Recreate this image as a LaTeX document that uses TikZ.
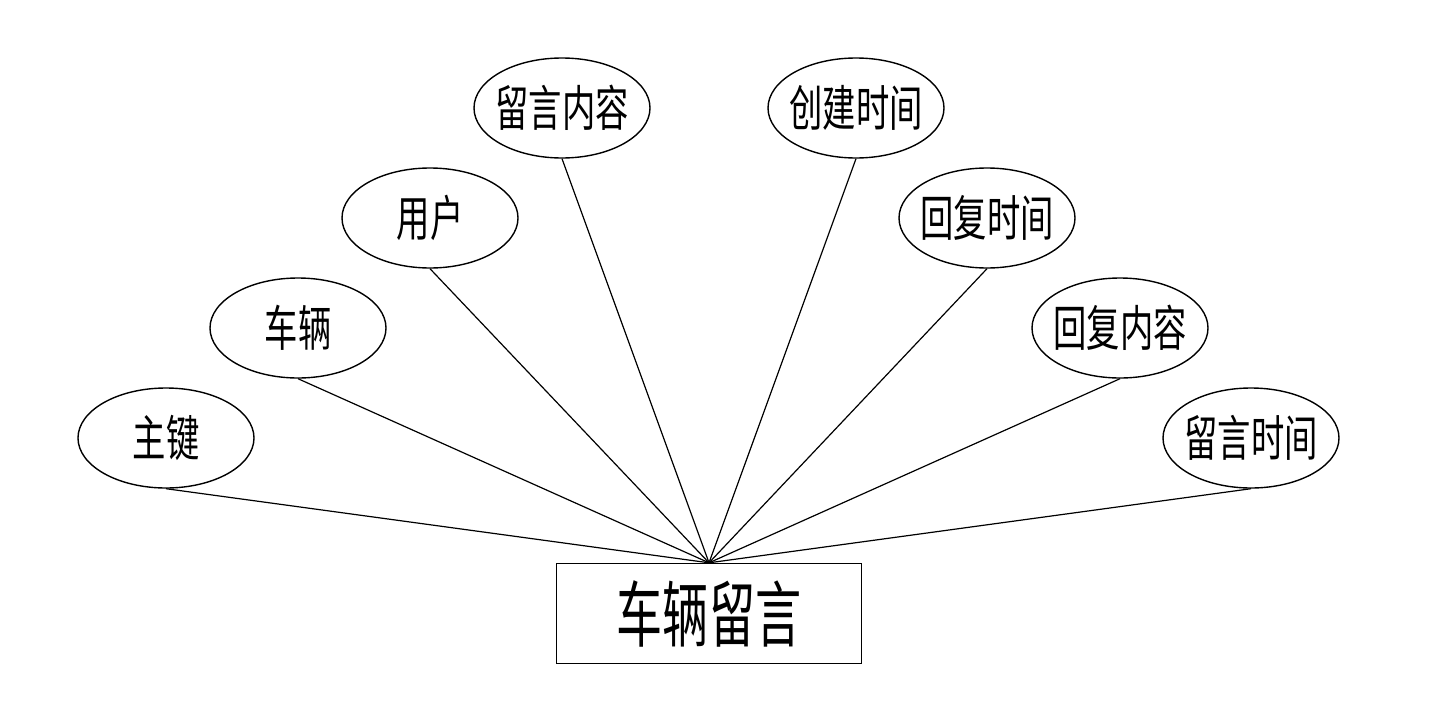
\documentclass[tikz,border=0pt]{standalone}
\usepackage{fontspec}
\newfontfamily\cjk{Noto Sans CJK SC}
\usetikzlibrary{shapes.geometric}
\tikzset{
  attr/.style={draw=black, line width=1.4pt, ellipse, minimum width=176pt, minimum height=100pt, inner sep=0pt},
  entity/.style={draw=black, line width=1.4pt, rectangle, minimum width=305pt, minimum height=100pt, inner sep=0pt},
  link/.style={draw=black, line width=1.2pt}
}
\newcommand{\atxt}[1]{\makebox[0pt]{\scalebox{0.68}[1]{\cjk\fontsize{49pt}{49pt}\selectfont #1}}}
\newcommand{\etxt}[1]{\makebox[0pt]{\scalebox{0.64}[1]{\cjk\fontsize{72pt}{72pt}\selectfont #1}}}
\begin{document}
\begin{tikzpicture}[x=1pt,y=-1pt]
\useasboundingbox (0,0) rectangle (1440,712);
\node[entity] (E) at (709,613.5) {\etxt{车辆留言}};
\node[attr] (a1) at (166,438) {\atxt{主键}};
\node[attr] (a2) at (298,328) {\atxt{车辆}};
\node[attr] (a3) at (430,218) {\atxt{用户}};
\node[attr] (a4) at (562,108) {\atxt{留言内容}};
\node[attr] (a5) at (856,108) {\atxt{创建时间}};
\node[attr] (a6) at (987,218) {\atxt{回复时间}};
\node[attr] (a7) at (1120,328) {\atxt{回复内容}};
\node[attr] (a8) at (1251,438) {\atxt{留言时间}};
\foreach \n in {a1,a2,a3,a4,a5,a6,a7,a8}{
  \draw[link] (\n.south) -- (E.north);
}
\end{tikzpicture}
\end{document}
